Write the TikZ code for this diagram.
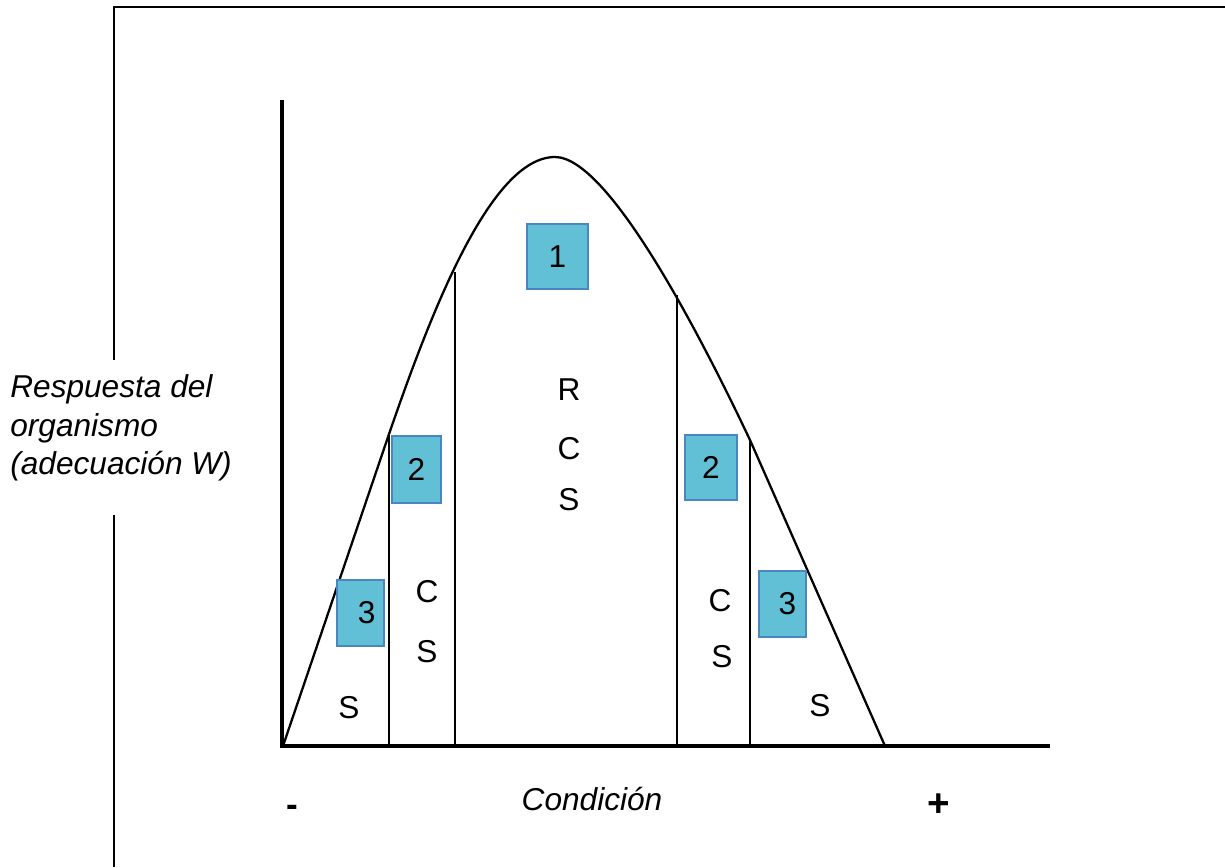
\documentclass[tikz,border=0pt]{standalone}
\usepackage{fontspec}
\setmainfont{Liberation Sans}
\definecolor{mBoxFill}{HTML}{62C0D6}
\definecolor{mBoxLine}{HTML}{4A86C0}
\usetikzlibrary{positioning}
\tikzset{
  numbox/.style={draw=mBoxLine, line width=0.6pt, fill=mBoxFill, inner sep=0pt, font=\fontsize{18}{22}\selectfont},
  zone/.style={inner sep=0pt, font=\fontsize{18}{22}\selectfont}
}

\begin{document}
\begin{tikzpicture}[x=0.02cm, y=-0.02cm]
\useasboundingbox (0,0) rectangle (1225,867);
% frame
\coordinate (ftop) at (1225,7);
\coordinate (fcorner) at (114,7);
\coordinate (fbreak1) at (114,360);
\coordinate (fbreak2) at (114,515);
\coordinate (fbottom) at (114,867);
\draw[line width=1.3pt] (ftop) -- (fcorner) -- (fbreak1);
\draw[line width=1.3pt] (fbreak2) -- (fbottom);
% axes
\coordinate (yend) at (282,100);
\coordinate (origin) at (282,746);
\coordinate (xend) at (1050,746);
\draw[line width=1.8pt] (yend) -- (origin) -- (xend);
% curve
\coordinate (cstart) at (283,746);
\coordinate (cleft) at (388,437);
\coordinate (cpeak) at (555,157);
\coordinate (cright) at (750,440);
\coordinate (cend) at (885,746);
\draw[line width=1.3pt] (cstart) -- (cleft)
  .. controls (430,315) and (490,157) .. (cpeak)
  .. controls (610,157) and (705,345) .. (cright) -- (cend);
% zone limits
\coordinate (l1top) at (389,434);
\coordinate (l1bot) at (389,746);
\coordinate (l2top) at (455,272);
\coordinate (l2bot) at (455,746);
\coordinate (r2top) at (677,295);
\coordinate (r2bot) at (677,746);
\coordinate (r1top) at (750,440);
\coordinate (r1bot) at (750,746);
\draw[line width=1.3pt] (l1top) -- (l1bot);
\draw[line width=1.3pt] (l2top) -- (l2bot);
\draw[line width=1.3pt] (r2top) -- (r2bot);
\draw[line width=1.3pt] (r1top) -- (r1bot);
% numbered boxes
\node[numbox, minimum width=61*0.02cm, minimum height=65*0.02cm] (box1) at (557.5,256.5) {1};
\node[numbox, minimum width=49*0.02cm, minimum height=67*0.02cm] (box2l) at (416.5,469.5) {2};
\node[numbox, minimum width=52*0.02cm, minimum height=65*0.02cm] (box2r) at (711,467.5) {2};
\node[numbox, minimum width=47*0.02cm, minimum height=66*0.02cm] (box3l) at (360.5,613) {\hspace*{0.25cm}3};
\node[numbox, minimum width=47*0.02cm, minimum height=66*0.02cm] (box3r) at (782.5,604) {\hspace*{0.2cm}3};
% zone letters
\node[zone] (rcsR) at (569,390) {R};
\node[zone] (rcsC) at (569,449) {C};
\node[zone] (rcsS) at (569,500) {S};
\node[zone] (csLC) at (427,592) {C};
\node[zone] (csLS) at (427,652) {S};
\node[zone] (csRC) at (720,601) {C};
\node[zone] (csRS) at (722,657) {S};
\node[zone] (sL) at (349,708) {S};
\node[zone] (sR) at (820,706) {S};
% axis labels
\node[zone, font=\fontsize{18}{22}\selectfont\itshape, align=left, anchor=west] (ylabel) at (10,428) {Respuesta del\\organismo\\(adecuación W)};
\node[zone, font=\fontsize{18}{22}\selectfont\itshape] (xlabel) at (592,799) {Condición};
\node[zone, font=\fontsize{20}{24}\selectfont\bfseries] (minus) at (292,811) {-};
\node[zone, font=\fontsize{22}{26}\selectfont\bfseries] (plus) at (939,805) {+};
\end{tikzpicture}
\end{document}
